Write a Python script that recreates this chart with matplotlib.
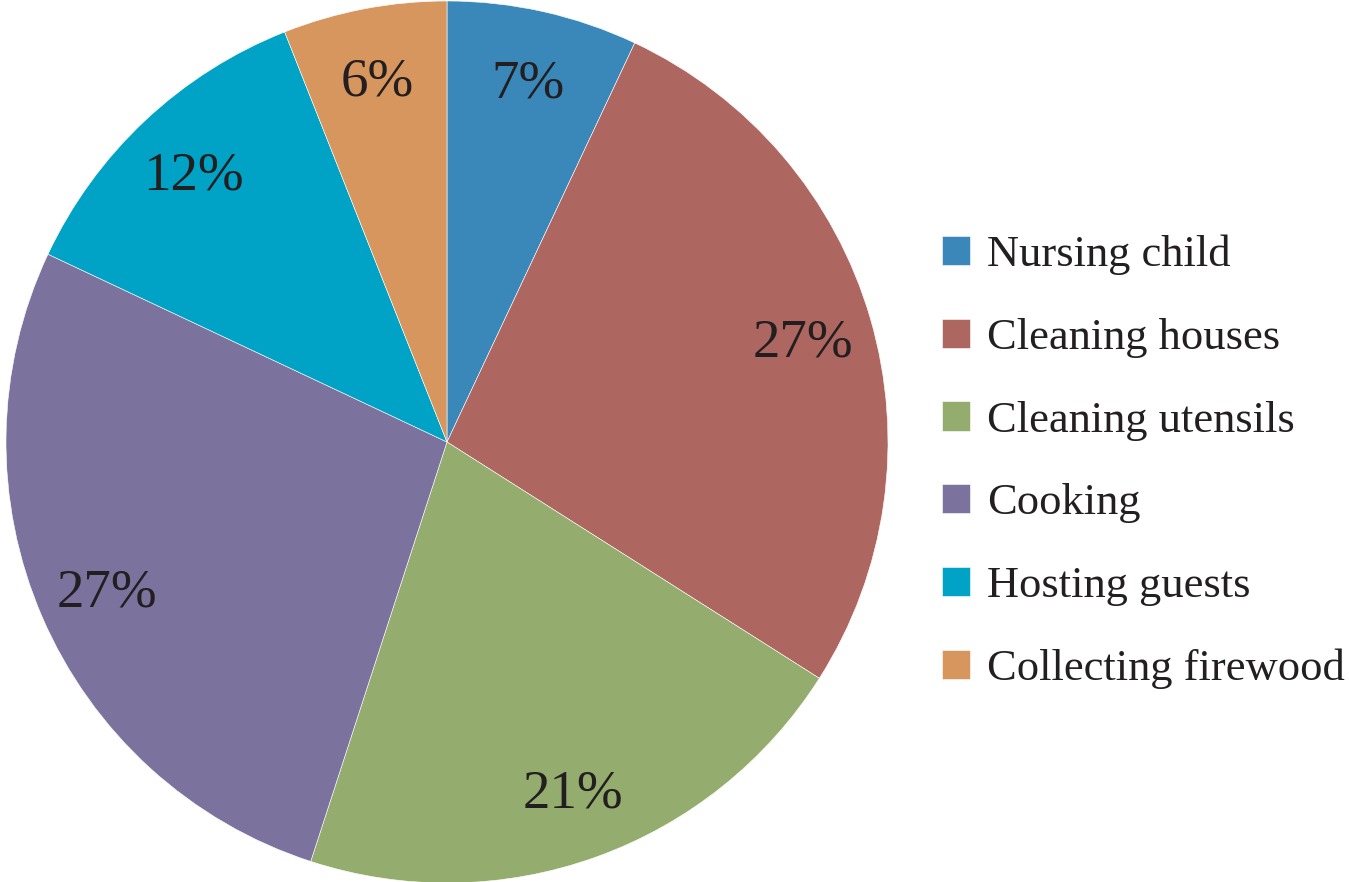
import matplotlib
matplotlib.use("Agg")
import matplotlib.pyplot as plt
import matplotlib.transforms as mtransforms

categories = ["Nursing child", "Cleaning houses", "Cleaning utensils",
              "Cooking", "Hosting guests", "Collecting firewood"]
values = [7, 27, 21, 27, 12, 6]
colors = ["#3A87BA", "#AE6660", "#94AD6E", "#7B729E", "#00A3C5", "#D8965F"]

plt.rcParams["font.family"] = ["Liberation Serif", "DejaVu Serif"]

W, H = 1349, 882
fig = plt.figure(figsize=(W / 100, H / 100), dpi=100)
cx, cy, r = 447, 442, 441
ax = fig.add_axes([(cx - r) / W, (H - cy - r) / H, 2 * r / W, 2 * r / H])

wedges, texts, autotexts = ax.pie(
    values, colors=colors, startangle=90, counterclock=False,
    autopct=lambda p: f"{p:.0f}%", pctdistance=0.84,
    wedgeprops=dict(edgecolor="white", linewidth=0.4),
    textprops=dict(fontsize=39.5, color="#231F20"), radius=1.0)
# shift labels slightly down so the digits sit visually centred
shift = mtransforms.ScaledTranslation(0, -3 / 72, fig.dpi_scale_trans)
for t in autotexts:
    t.set_transform(t.get_transform() + shift)
ax.set_xlim(-1, 1)
ax.set_ylim(-1, 1)
ax.set_aspect("equal")
ax.axis("off")

fig.legend(wedges, categories, loc="center left",
           bbox_to_anchor=(942 / W, 1 - 462 / H), frameon=False,
           fontsize=32, handlelength=0.63, handleheight=0.63,
           handletextpad=0.38, labelspacing=0.96, borderpad=0,
           borderaxespad=0, labelcolor="#231F20")

fig.savefig("out.png", dpi=100)
